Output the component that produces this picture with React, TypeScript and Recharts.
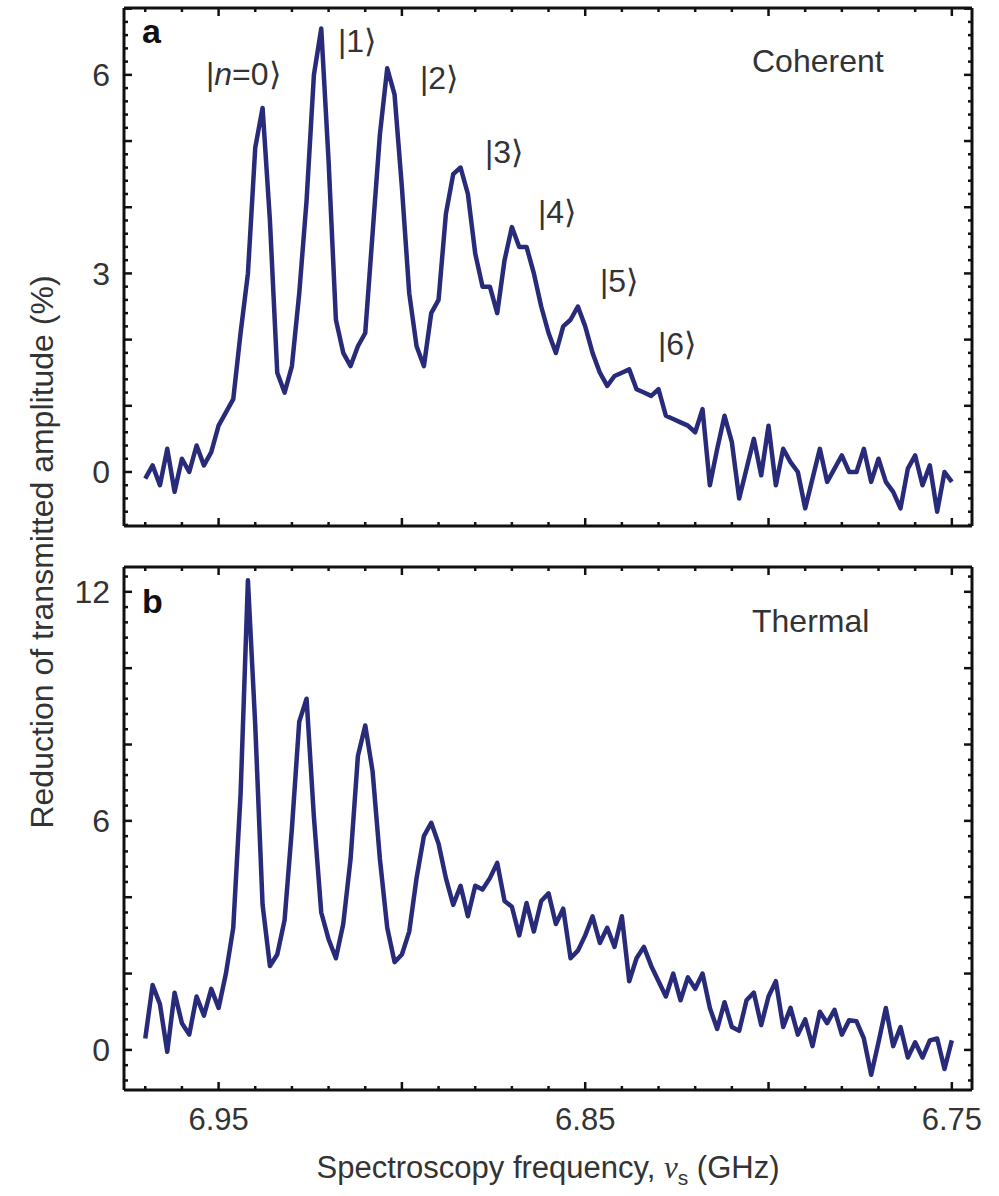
import React from 'react';
import { LineChart, Line, XAxis, YAxis } from 'recharts';

// sampling grid of the spectroscopy sweep (GHz), high to low
const FREQ_START = 6.97;
const FREQ_STEP = 0.002;

// panel a: coherent drive, reduction of transmitted amplitude (%)
const coherent = [
  -0.1, 0.1, -0.2, 0.35, -0.3, 0.2, 0.0, 0.4, 0.1, 0.3,
  0.7, 0.9, 1.1, 2.1, 3.0, 4.9, 5.5, 3.8, 1.5, 1.2,
  1.6, 2.7, 4.1, 6.0, 6.7, 4.7, 2.3, 1.8, 1.6, 1.9,
  2.1, 3.6, 5.1, 6.1, 5.7, 4.3, 2.7, 1.9, 1.6, 2.4,
  2.6, 3.9, 4.5, 4.6, 4.2, 3.3, 2.8, 2.8, 2.4, 3.2,
  3.7, 3.4, 3.4, 3.0, 2.5, 2.1, 1.8, 2.2, 2.3, 2.5,
  2.2, 1.8, 1.5, 1.3, 1.45, 1.5, 1.55, 1.25, 1.2, 1.15,
  1.25, 0.85, 0.8, 0.75, 0.7, 0.6, 0.95, -0.2, 0.35, 0.85,
  0.45, -0.4, 0.05, 0.5, -0.05, 0.7, -0.2, 0.35, 0.15, 0.0,
  -0.55, -0.1, 0.35, -0.15, 0.05, 0.25, 0.0, 0.0, 0.35, -0.15,
  0.2, -0.15, -0.3, -0.55, 0.05, 0.25, -0.2, 0.1, -0.6, 0.0, -0.15
];

// panel b: thermal drive
const thermal = [
  0.3, 1.7, 1.2, -0.05, 1.5, 0.7, 0.4, 1.4, 0.9, 1.6,
  1.1, 2.0, 3.2, 6.7, 12.3, 8.5, 3.8, 2.2, 2.5, 3.4,
  5.8, 8.6, 9.2, 6.1, 3.6, 2.9, 2.4, 3.3, 5.0, 7.7,
  8.5, 7.3, 5.0, 3.2, 2.3, 2.5, 3.1, 4.5, 5.6, 5.95,
  5.4, 4.5, 3.8, 4.3, 3.5, 4.3, 4.2, 4.5, 4.9, 3.9,
  3.75, 3.0, 3.85, 3.1, 3.9, 4.1, 3.3, 3.7, 2.4, 2.6,
  3.0, 3.5, 2.8, 3.2, 2.7, 3.5, 1.8, 2.4, 2.7, 2.2,
  1.8, 1.4, 2.0, 1.3, 1.9, 1.6, 2.0, 1.1, 0.55, 1.25,
  0.6, 0.5, 1.3, 1.5, 0.65, 1.4, 1.8, 0.6, 1.1, 0.4,
  0.8, 0.1, 1.0, 0.7, 1.05, 0.4, 0.78, 0.75, 0.3, -0.65,
  0.2, 1.1, 0.1, 0.6, -0.2, 0.2, -0.2, 0.25, 0.3, -0.5, 0.25
];

const xTicks = [
  6.97, 6.96, 6.95, 6.94, 6.93, 6.92, 6.91, 6.9, 6.89, 6.88, 6.87, 6.86,
  6.85, 6.84, 6.83, 6.82, 6.81, 6.8, 6.79, 6.78, 6.77, 6.76, 6.75
];
const xLabels = ['6.95', '6.85', '6.75'];
const coherentLabels = [0, 3, 6];
const thermalLabels = [0, 6, 12];
const kets = ['|1⟩', '|2⟩', '|3⟩', '|4⟩', '|5⟩', '|6⟩'];

const X_DOMAIN = [6.7445, 6.9758];
const FONT = '"Liberation Sans", Arial, Helvetica, sans-serif';
const INK = '#111';
const TXT = '#333';
const LINE = '#282a7a';

const steps = (lo: number, hi: number, step: number) => {
  const out: number[] = [];
  for (let k = Math.ceil(lo / step - 1e-9); k * step <= hi + 1e-9; k++) out.push(+(k * step).toFixed(3));
  return out;
};
const onGrid = (v: number, step: number) => Math.abs(v / step - Math.round(v / step)) < 1e-6;

const coherentData = coherent.map((a, i) => ({ f: +(FREQ_START - i * FREQ_STEP).toFixed(3), a }));
const thermalData = thermal.map((b, i) => ({ f: +(FREQ_START - i * FREQ_STEP).toFixed(3), b }));

const xTick = (side: 'top' | 'bottom', labelled: boolean) => (props: any) => {
  const { x, y, payload } = props;
  const v = payload.value as number;
  const major = onGrid(v, 0.05);
  const len = major ? 8 : 4;
  const dir = side === 'bottom' ? -1 : 1;
  const txt = v.toFixed(2);
  return (
    <g>
      <line x1={x} x2={x} y1={y} y2={y + dir * len} stroke={INK} strokeWidth={2.5} />
      {labelled && xLabels.includes(txt) && (
        <text x={x} y={y + 40} textAnchor="middle" fontSize={31} fontFamily={FONT} fill={TXT}>
          {txt}
        </text>
      )}
    </g>
  );
};

const yTick = (side: 'left' | 'right', mid: number, labels: number[] | null) => (props: any) => {
  const { x, y, payload } = props;
  const v = payload.value as number;
  const lab = labels ? labels.find((l) => Math.abs(l - v) < 1e-6) : undefined;
  const len = onGrid(v, mid) ? 8 : 4;
  const dir = side === 'left' ? 1 : -1;
  return (
    <g>
      <line x1={x} x2={x + dir * len} y1={y} y2={y} stroke={INK} strokeWidth={2.5} />
      {lab !== undefined && (
        <text x={x - 14} y={y + 11.5} textAnchor="end" fontSize={32} fontFamily={FONT} fill={TXT}>
          {lab}
        </text>
      )}
    </g>
  );
};

const axisLine = { stroke: INK, strokeWidth: 3 };

function Panel(props: {
  data: any[];
  dataKey: string;
  yDomain: number[];
  minor: number;
  mid: number;
  labels: number[];
  height: number;
  margin: any;
  bottomLabels: boolean;
}) {
  const { data, dataKey, yDomain, minor, mid, labels, height, margin, bottomLabels } = props;
  const yTicks = steps(yDomain[0], yDomain[1], minor);
  return (
    <LineChart width={999} height={height} data={data} margin={margin}>
      <XAxis
        xAxisId="bottom"
        dataKey="f"
        type="number"
        domain={X_DOMAIN}
        allowDataOverflow
        reversed
        ticks={xTicks}
        interval={0}
        height={1}
        tickSize={0}
        tickMargin={0}
        tickLine={false}
        axisLine={axisLine}
        tick={xTick('bottom', bottomLabels)}
      />
      <XAxis
        xAxisId="top"
        orientation="top"
        dataKey="f"
        type="number"
        domain={X_DOMAIN}
        allowDataOverflow
        reversed
        ticks={xTicks}
        interval={0}
        height={1}
        tickSize={0}
        tickMargin={0}
        tickLine={false}
        axisLine={axisLine}
        tick={xTick('top', false)}
      />
      <YAxis
        yAxisId="left"
        type="number"
        domain={yDomain}
        allowDataOverflow
        ticks={yTicks}
        interval={0}
        width={1}
        tickSize={0}
        tickMargin={0}
        tickLine={false}
        axisLine={axisLine}
        tick={yTick('left', mid, labels)}
      />
      <YAxis
        yAxisId="right"
        orientation="right"
        type="number"
        domain={yDomain}
        allowDataOverflow
        ticks={yTicks}
        interval={0}
        width={1}
        tickSize={0}
        tickMargin={0}
        tickLine={false}
        axisLine={axisLine}
        tick={yTick('right', mid, null)}
      />
      <Line
        xAxisId="bottom"
        yAxisId="left"
        type="linear"
        dataKey={dataKey}
        stroke={LINE}
        strokeWidth={4.5}
        strokeLinejoin="round"
        dot={false}
        activeDot={false}
        isAnimationActive={false}
      />
    </LineChart>
  );
}

const ketPos = [
  [338, 52],
  [420, 89],
  [485, 163],
  [538, 223],
  [600, 292],
  [658, 355]
];

export default function App() {
  return (
    <div style={{ position: 'absolute', left: 0, top: 0, width: 999, height: 1196, background: '#fff' }}>
      <div style={{ position: 'absolute', left: 0, top: 0 }}>
        <Panel
          data={coherentData}
          dataKey="a"
          yDomain={[-0.816, 7.01]}
          minor={0.2}
          mid={1}
          labels={coherentLabels}
          height={540}
          margin={{ top: 7, right: 26, left: 123, bottom: 13 }}
          bottomLabels={false}
        />
      </div>
      <div style={{ position: 'absolute', left: 0, top: 540 }}>
        <Panel
          data={thermalData}
          dataKey="b"
          yDomain={[-1.05, 12.65]}
          minor={0.4}
          mid={2}
          labels={thermalLabels}
          height={656}
          margin={{ top: 26, right: 26, left: 123, bottom: 105 }}
          bottomLabels={true}
        />
      </div>
      <svg
        width={999}
        height={1196}
        style={{ position: 'absolute', left: 0, top: 0, pointerEvents: 'none' }}
        fontFamily={FONT}
        fill={TXT}
      >
        <text x={142} y={43} fontSize={34} fontWeight="bold" fill="#111">a</text>
        <text x={142} y={613} fontSize={34} fontWeight="bold" fill="#111">b</text>
        <text x={206} y={85} fontSize={32}>
          |<tspan fontStyle="italic">n</tspan>=0⟩
        </text>
        {kets.map((k, i) => (
          <text key={k} x={ketPos[i][0]} y={ketPos[i][1]} fontSize={32}>
            {k}
          </text>
        ))}
        <text x={752} y={72} fontSize={32}>Coherent</text>
        <text x={752} y={632} fontSize={32}>Thermal</text>
        <text transform="translate(53,552) rotate(-90)" textAnchor="middle" fontSize={32}>
          Reduction of transmitted amplitude (%)
        </text>
        <text x={548} y={1178} textAnchor="middle" fontSize={31}>
          Spectroscopy frequency,{' '}
          <tspan fontFamily='"Liberation Serif", serif' fontStyle="italic">ν</tspan>
          <tspan fontSize={21} dy={7}>s</tspan>
          <tspan dy={-7}> (GHz)</tspan>
        </text>
      </svg>
    </div>
  );
}
